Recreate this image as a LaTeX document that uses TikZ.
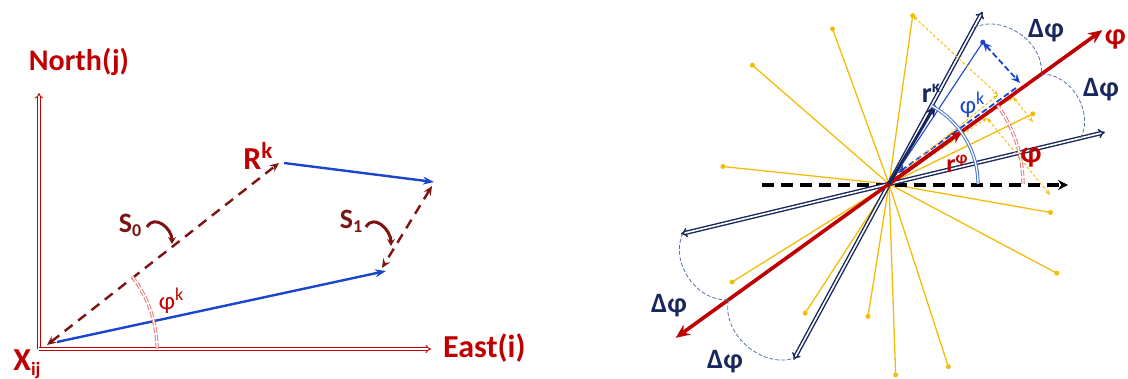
\documentclass[tikz,border=0pt]{standalone}
\usepackage{fontspec}
\setmainfont{Carlito}
\usetikzlibrary{arrows.meta,calc}
\definecolor{axred}{RGB}{192,0,0}
\definecolor{darkred}{RGB}{125,20,20}
\definecolor{vecblue}{RGB}{25,70,205}
\definecolor{navy}{RGB}{24,40,92}
\definecolor{gold}{RGB}{243,188,10}
\definecolor{arcred}{RGB}{228,120,120}
\definecolor{arcblue}{RGB}{75,115,200}
\definecolor{dphigray}{RGB}{85,115,165}
\newcommand{\lowtxt}[2]{\raisebox{-0.3ex}{\fontsize{#1}{#1}\selectfont #2}}
\newcommand{\hightxt}[2]{\raisebox{0.75ex}{\fontsize{#1}{#1}\selectfont #2}}
\begin{document}
\begin{tikzpicture}[x=1pt,y=1pt,
  lbl/.style={font=\bfseries\fontsize{28}{30}\selectfont,inner sep=0pt},
  biglbl/.style={font=\bfseries\fontsize{32}{34}\selectfont,inner sep=0pt},
  thinlbl/.style={font=\fontsize{25}{27}\selectfont,inner sep=0pt},
  axis/.style={draw=axred,double=white,double distance=1.8pt,line width=0.9pt,-{Implies}},
  refline/.style={darkred,line width=2.4pt,dash pattern=on 10pt off 7pt,{Stealth[length=9pt,width=8pt]}-{Stealth[length=9pt,width=8pt]}},
  vecline/.style={vecblue,line width=2.4pt,-{Stealth[length=11pt,width=8pt]}},
  turn/.style={darkred,line width=3pt,-{Stealth[length=7pt,width=8pt]}},
  phiarc/.style={arcred,double=white,double distance=1.3pt,line width=1pt,dash pattern=on 6pt off 2pt},
  karc/.style={arcblue,double=white,double distance=1.3pt,line width=1pt},
  ray/.style={gold,line width=1.3pt},
  golddot/.style={circle,fill=gold,inner sep=0pt,minimum size=5pt},
  proj/.style={gold,line width=0.9pt,dash pattern=on 3pt off 2pt},
  navydbl/.style={draw=navy,double=white,double distance=1.6pt,line width=1.4pt,{Implies}-{Implies}},
  dphiarc/.style={dphigray,line width=0.8pt,dash pattern=on 4pt off 2pt},
  dphi/.style={lbl,text=navy}]
\useasboundingbox (0,0) rectangle (1128,378);

% left: bearing of the station
\coordinate (origin) at (39,29);
\draw [axis] (origin) -- (39,285);
\draw [axis] (origin) -- (431,29);
\node(north) [lbl,text=axred,font=\bfseries\fontsize{30}{32}\selectfont] at (79,316) {North(j)};
\node(east) [lbl,text=axred,font=\bfseries\fontsize{32}{34}\selectfont,anchor=west] at (443,30) {East(i)};
\node(xij) [biglbl,text=axred] at (27,14) {X\lowtxt{19}{ij}};

\coordinate (tail) at (47,33);
\coordinate (rk) at (279,215);
\coordinate (b1s) at (57,36);
\coordinate (b1e) at (386,107);
\coordinate (b2s) at (284,215);
\coordinate (b2e) at (434,196);
\coordinate (s1top) at (432,192);
\coordinate (s1bot) at (382,110);
\draw [refline] (tail) -- (rk);
\draw [vecline] (b1s) -- (b1e);
\draw [vecline] (b2s) -- (b2e);
\draw [refline] (s1top) -- (s1bot);
\draw [phiarc] ($(origin)+(118,0)$) arc[start angle=0,end angle=38,radius=118];

\node(rlabel) [biglbl,text=axred] at (258,222) {R\hightxt{23}{k}};
\node(s0) [lbl,text=darkred] at (130,153) {S\lowtxt{18}{0}};
\node(s1) [lbl,text=darkred] at (351,157) {S\lowtxt{18}{1}};
\node(phik) [thinlbl,text=axred] at (171,77) {φ\hightxt{18}{k}};
\draw [turn] (147,151) to[out=60,in=90,looseness=1.3] (172,134);
\draw [turn] (366,151) to[out=60,in=90,looseness=1.3] (391,132);

% right: split of the direction into sectors
\coordinate (center) at (889,194);
\begin{scope}[shift={(center)}]
\foreach \ang/\len [count=\i] in {110/165, 82/170, 139/181, 174/167, 26/160, 350/164,
    212/185, 237/154, 261/134, 272/191, 288/192, 332/190} {
  \coordinate (yp\i) at (\ang:\len);
  \draw [ray] (0,0) -- (yp\i);
  \node(ydot\i) [golddot] at (yp\i) {};
}
\draw [black,line width=3.8pt,dash pattern=on 12pt off 7pt,-{Stealth[length=10pt,width=10pt]}] (-127,-1) -- (179,-1);

\coordinate (navyup) at (61.5:196);
\coordinate (navydown) at (241.5:200);
\coordinate (navyright) at (13.5:222);
\coordinate (navyleft) at (193.5:214);
\draw [navydbl] (navydown) -- (navyup);
\draw [navydbl] (navyleft) -- (navyright);

\coordinate (bluedot) at (56.5:170);
\coordinate (bluefoot) at (131,101);
\draw [vecblue,line width=1.1pt] (0,0) -- (bluedot);
\fill [vecblue] (bluedot) circle (2.6pt);
\draw [vecblue,line width=1.8pt,dash pattern=on 6pt off 3pt,{Stealth[length=9pt,width=8pt]}-{Stealth[length=9pt,width=8pt]}] (bluedot) -- (bluefoot);
\draw [vecblue,line width=1.8pt,dash pattern=on 6pt off 3pt,-{Stealth[length=9pt,width=8pt]}] (127,96) -- (9,11);

\coordinate (pa) at (109,89);
\coordinate (pb) at (124,87);
\coordinate (pc) at (98,66);
\draw [proj,{Stealth[length=5pt,width=4pt]}-{Stealth[length=5pt,width=4pt]}] (yp2) -- (pa);
\draw [proj,{Stealth[length=5pt,width=4pt]}-{Stealth[length=5pt,width=4pt]}] (pb) -- (144,62);
\draw [proj,{Stealth[length=5pt,width=4pt]}-{Stealth[length=5pt,width=4pt]}] (pc) -- (161,-11);
\draw [proj,-{Stealth[length=5pt,width=4pt]}] (3,4) -- (pa);
\draw [proj,-{Stealth[length=5pt,width=4pt]}] (3,3) -- (pb);
\draw [proj,-{Stealth[length=5pt,width=4pt]}] (3,2) -- (pc);

\coordinate (phiup) at (35.8:263);
\coordinate (phidown) at (215.8:263);
\draw [axred,line width=3.6pt,{Stealth[length=14pt,width=12pt]}-{Stealth[length=14pt,width=12pt]}] (phidown) -- (phiup);
\coordinate (rphi) at (35.8:90);
\draw [axred,line width=3.6pt,-{Stealth[length=12pt,width=11pt]}] (0,0) -- (rphi);
\coordinate (rktip) at (59.5:92);
\draw [navy,line width=2.8pt,-{Stealth[length=12pt,width=10pt]}] (0,0) -- (rktip);

\draw [karc] (89,0) arc[start angle=0,end angle=61.5,radius=89];
\draw [phiarc] (134,0) arc[start angle=0,end angle=35.8,radius=134];

\draw [dphiarc] (61.5:178) to[bend left=60] (35.8:188);
\draw [dphiarc] (35.8:188) to[bend left=60] (13.5:197);
\draw [dphiarc] (193.5:212) to[bend right=60] (215.8:198);
\draw [dphiarc] (215.8:198) to[bend right=60] (241.5:198);
\end{scope}

\node(rklabel) [lbl,text=navy] at (931,285) {r\hightxt{17}{κ}};
\node(phiklabel) [thinlbl,text=vecblue] at (972,273) {φ\hightxt{18}{k}};
\node(rphilabel) [lbl,text=axred,font=\bfseries\fontsize{26}{28}\selectfont] at (957,214) {r\hightxt{17}{φ}};
\node(philabel) [lbl,text=axred,font=\bfseries\fontsize{30}{32}\selectfont] at (1031,221) {φ};
\node(phiaxis) [lbl,text=axred,font=\bfseries\fontsize{30}{32}\selectfont,anchor=east] at (1126,339) {φ};
\node(dphi1) [dphi] at (1046,347) {Δφ};
\node(dphi2) [dphi] at (1101,288) {Δφ};
\node(dphi3) [dphi] at (669,72) {Δφ};
\node(dphi4) [dphi] at (725,16) {Δφ};
\end{tikzpicture}
\end{document}
